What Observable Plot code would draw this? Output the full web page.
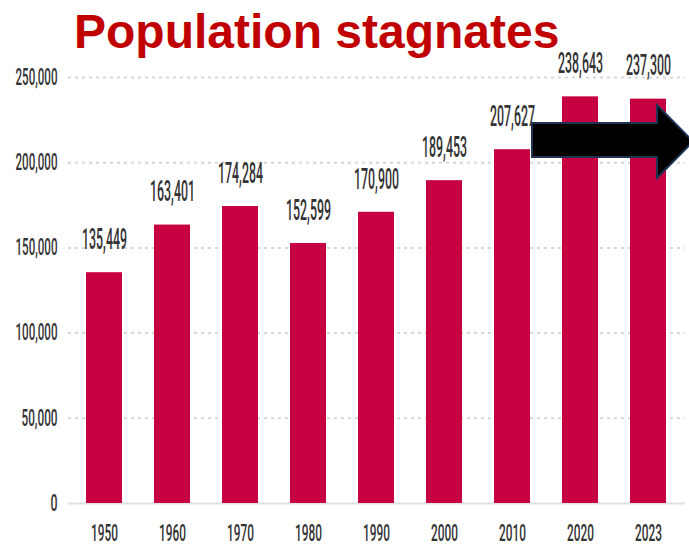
<!DOCTYPE html>
<html>
<head>
<meta charset="utf-8">
<script src="https://cdn.jsdelivr.net/npm/d3@7"></script>
<script src="https://cdn.jsdelivr.net/npm/@observablehq/plot@0.6"></script>
<style>
  html, body { margin: 0; padding: 0; background: #fff; width: 689px; height: 546px; overflow: hidden; }
  #title { position: relative; height: 58px; }
  #title span { position: absolute; left: 74px; top: 4px; font: bold 48px/55px "Liberation Sans", Arial, sans-serif; color: #c00000; white-space: nowrap; }
</style>
</head>
<body>
<div id="title"><span>Population stagnates</span></div>
<div id="chart"></div>
<script>
const years = ["1950", "1960", "1970", "1980", "1990", "2000", "2010", "2020", "2023"];
const population = [135449, 163401, 174284, 152599, 170900, 189453, 207627, 238643, 237300];
const yTicks = [0, 50000, 100000, 150000, 200000, 250000];

const data = years.map((year, i) => ({year, pop: population[i]}));
const fmt = d3.format(",");

const plot = Plot.plot({
  width: 689,
  height: 488,
  marginTop: 19,
  marginBottom: 43,
  marginLeft: 68,
  marginRight: 4,
  style: {fontFamily: "Roboto, sans-serif", fontSize: "23px", fontWeight: 500, color: "#333", background: "transparent", overflow: "visible"},
  x: {domain: years, paddingInner: 0.47, paddingOuter: 0.25, label: null, tickSize: 0, tickPadding: 21},
  y: {domain: [0, 250000], ticks: yTicks, tickFormat: d => fmt(d), label: null, tickSize: 0, tickPadding: 11},
  marks: [
    Plot.ruleY(yTicks.filter(d => d > 0), {stroke: "#d6d6d6", strokeWidth: 2, strokeDasharray: "3,4"}),
    Plot.ruleY([0], {stroke: "#e2e2e2", strokeWidth: 2}),
    Plot.barY(data, {x: "year", y: "pop", fill: "#c70042"}),
    Plot.text(data, {x: "year", y: "pop", text: d => fmt(d.pop), dy: -33, fontSize: 29, fill: "#333"})
  ]
});

document.getElementById("chart").appendChild(plot);

// condense text horizontally (the source uses a very narrow font)
const valueLabels = new Set(population.map(fmt));
plot.querySelectorAll("text").forEach(t => {
  const s = t.textContent;
  let target;
  if (valueLabels.has(s)) { target = 45; }
  else if (years.includes(s)) { t.style.fontSize = "23px"; target = 27; }
  else { t.style.fontSize = "23px"; target = s.length === 1 ? 7 : (s.length === 6 ? 36 : 42); }
  const w = t.getComputedTextLength();
  if (w > 0) {
    const f = target / w;
    const ax = parseFloat(t.getAttribute("x") || "0") || 0;
    const prev = t.getAttribute("transform") || "";
    t.setAttribute("transform", `${prev} translate(${ax},0) scale(${f.toFixed(3)},1) translate(${-ax},0)`.trim());
  }
});

// annotation arrow (drawn through the chart's scales)
const xs = plot.scale("x"), ys = plot.scale("y");
const shaftTop = 223000, shaftBottom = 203000, headTop = 233600, headBottom = 190700;
const x0 = xs.apply("2010") + xs.bandwidth + 2;
const xh = xs.apply("2023") + xs.bandwidth * 0.75;
const xt = xh + 36;
const yA = ys.apply(shaftTop), yB = ys.apply(shaftBottom), yH1 = ys.apply(headTop), yH2 = ys.apply(headBottom);
const yM = (yH1 + yH2) / 2;
d3.select(plot).append("path")
  .attr("d", `M${x0},${yA}L${xh},${yA}L${xh},${yH1}L${xt},${yM}L${xh},${yH2}L${xh},${yB}L${x0},${yB}Z`)
  .attr("fill", "#000")
  .attr("stroke", "#1f3253")
  .attr("stroke-width", 2)
  .attr("stroke-linejoin", "miter");
</script>
</body>
</html>
